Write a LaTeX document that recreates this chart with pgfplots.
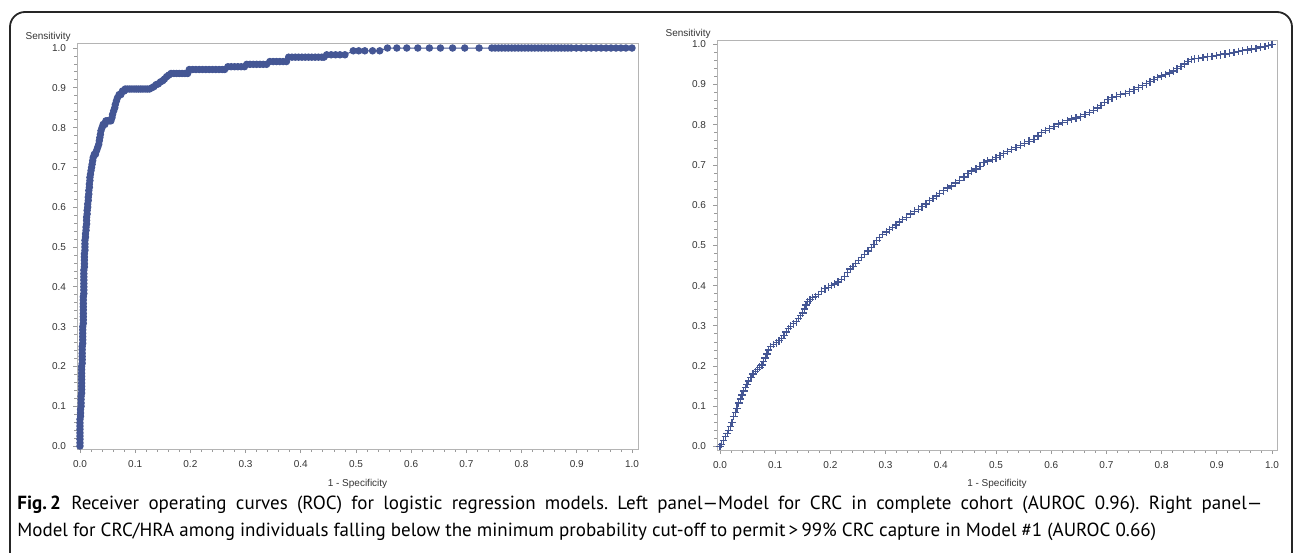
\documentclass[border=0pt]{standalone}
\usepackage{pgfplots}
\pgfplotsset{compat=1.18}
\usepackage{fontspec}
\setmainfont{PT Sans}
\newfontfamily\sasfont{Liberation Sans}

\definecolor{sasblue}{HTML}{445694}
\definecolor{axgray}{HTML}{B4B4B4}
\definecolor{tkgray}{HTML}{9A9A9A}
\definecolor{labgray}{HTML}{333333}

\newcommand\tickfont{\sasfont\fontsize{5pt}{6pt}\selectfont}
\newcommand\captfont{\fontsize{9.5pt}{13.5pt}\selectfont\frenchspacing}

% common look of the two SAS ROC panels
\pgfplotsset{
  rocaxis/.style={
    scale only axis,
    clip=false,
    axis line style={draw=axgray, line width=0.5pt},
    tick style={draw=tkgray, line width=0.4pt},
    tick align=outside,
    tick pos=left,
    major tick length=2pt,
    minor tick length=1.4pt,
    minor tick num=4,
    xtick={0,0.1,0.2,0.3,0.4,0.5,0.6,0.7,0.8,0.9,1},
    ytick={0,0.1,0.2,0.3,0.4,0.5,0.6,0.7,0.8,0.9,1},
    tick label style={font=\tickfont, text=labgray,
      /pgf/number format/fixed,
      /pgf/number format/fixed zerofill,
      /pgf/number format/precision=1,
      /pgf/number format/assume math mode=true},
  },
}

\begin{document}
\begin{tikzpicture}

% frame of the figure box
\draw[black!85, line width=0.9pt, rounded corners=7.5pt] (5pt,-6pt) rectangle (646pt,-330pt);

% ---------------- left panel ----------------
\begin{axis}[rocaxis,
  at={(38.5pt,-224.5pt)}, anchor=south west,
  width=280.5pt, height=203pt,
  xmin=-0.0054, xmax=1.0109, ymin=-0.0075, ymax=1.0126,
]
\addplot[color=sasblue, line width=0.5pt, mark=*, mark size=1.6pt,
  mark options={draw=sasblue, fill=sasblue}] coordinates {
(0,0) (0,0.008) (0,0.017) (0,0.025) (0,0.033) (0,0.042) (0,0.05) (0,0.058) (0,0.067) (0.001,0.075) (0.001,0.083) (0.001,0.092)
(0.002,0.1) (0.002,0.108) (0.002,0.117) (0.002,0.125) (0.003,0.133) (0.003,0.142) (0.003,0.15) (0.003,0.158) (0.003,0.167) (0.003,0.175) (0.003,0.183) (0.003,0.192)
(0.003,0.2) (0.004,0.208) (0.004,0.217) (0.004,0.225) (0.004,0.233) (0.004,0.242) (0.004,0.25) (0.005,0.258) (0.005,0.267) (0.005,0.275) (0.005,0.283) (0.005,0.292)
(0.005,0.3) (0.006,0.308) (0.006,0.317) (0.006,0.325) (0.006,0.333) (0.006,0.342) (0.006,0.35) (0.006,0.358) (0.006,0.367) (0.006,0.375) (0.007,0.383) (0.007,0.392)
(0.007,0.4) (0.007,0.408) (0.007,0.417) (0.007,0.425) (0.007,0.433) (0.007,0.442) (0.008,0.45) (0.008,0.458) (0.008,0.467) (0.008,0.475) (0.008,0.483) (0.009,0.492)
(0.009,0.5) (0.009,0.508) (0.009,0.517) (0.010,0.525) (0.010,0.533) (0.011,0.542) (0.011,0.55) (0.012,0.558) (0.012,0.567) (0.012,0.575) (0.013,0.583) (0.013,0.592)
(0.014,0.6) (0.014,0.608) (0.015,0.617) (0.015,0.625) (0.016,0.633) (0.016,0.642) (0.017,0.65) (0.017,0.658) (0.018,0.667) (0.018,0.675) (0.019,0.683) (0.020,0.692)
(0.021,0.7) (0.022,0.708) (0.023,0.717) (0.024,0.725) (0.026,0.733) (0.028,0.733) (0.030,0.742) (0.032,0.75) (0.034,0.758) (0.035,0.767) (0.036,0.775) (0.037,0.783)
(0.038,0.792) (0.040,0.8) (0.042,0.808) (0.045,0.808) (0.047,0.817) (0.050,0.817) (0.053,0.817) (0.056,0.817) (0.058,0.825) (0.059,0.833) (0.061,0.842) (0.063,0.85)
(0.064,0.858) (0.066,0.867) (0.068,0.875) (0.071,0.883) (0.074,0.883) (0.077,0.892) (0.080,0.892) (0.082,0.897) (0.086,0.897) (0.090,0.897) (0.094,0.897) (0.098,0.897)
(0.102,0.897) (0.106,0.897) (0.110,0.897) (0.114,0.897) (0.118,0.897) (0.122,0.897) (0.126,0.897) (0.130,0.9) (0.134,0.903) (0.138,0.908) (0.142,0.91) (0.146,0.915)
(0.150,0.918) (0.153,0.922) (0.157,0.928) (0.161,0.932) (0.165,0.936) (0.170,0.936) (0.175,0.936) (0.180,0.936) (0.185,0.936) (0.190,0.936) (0.195,0.936) (0.198,0.946)
(0.204,0.946) (0.210,0.946) (0.216,0.946) (0.222,0.946) (0.228,0.946) (0.234,0.946) (0.240,0.946) (0.246,0.946) (0.252,0.946) (0.258,0.946) (0.262,0.946) (0.268,0.953)
(0.274,0.953) (0.280,0.953) (0.286,0.953) (0.292,0.953) (0.298,0.953) (0.302,0.959) (0.308,0.959) (0.314,0.959) (0.320,0.959) (0.326,0.959) (0.332,0.959) (0.338,0.959)
(0.344,0.966) (0.350,0.966) (0.356,0.966) (0.362,0.966) (0.368,0.966) (0.374,0.966) (0.378,0.977) (0.384,0.977) (0.390,0.977) (0.396,0.977) (0.402,0.977) (0.408,0.977)
(0.414,0.977) (0.420,0.977) (0.426,0.977) (0.432,0.977) (0.438,0.977) (0.442,0.977) (0.447,0.983) (0.455,0.983) (0.463,0.983) (0.471,0.983) (0.480,0.983)
(0.495,0.993) (0.505,0.993) (0.516,0.993) (0.530,0.993) (0.543,0.993)
(0.557,1) (0.574,1) (0.592,1) (0.612,1) (0.633,1) (0.653,1) (0.675,1) (0.697,1) (0.723,1)
(0.746,1) (0.752,1) (0.758,1) (0.764,1) (0.770,1) (0.776,1) (0.782,1) (0.788,1) (0.794,1) (0.800,1) (0.806,1) (0.812,1) (0.818,1)
(0.824,1) (0.830,1) (0.836,1) (0.842,1) (0.848,1) (0.854,1) (0.860,1) (0.866,1) (0.872,1) (0.878,1) (0.884,1) (0.890,1)
(0.899,1) (0.908,1) (0.917,1) (0.926,1) (0.935,1) (0.944,1) (0.953,1) (0.962,1) (0.971,1) (0.980,1) (0.989,1) (1,1)
};
\end{axis}

% ---------------- right panel ----------------
\begin{axis}[rocaxis,
  at={(358.5pt,-225pt)}, anchor=south west,
  width=280pt, height=205pt,
  xmin=-0.0054, xmax=1.009, ymin=-0.0087, ymax=1.0107,
]
\addplot[only marks, color=sasblue, mark=+, mark size=1.9pt,
  mark options={line width=0.65pt}] coordinates {
(0,0) (0.003,0.005) (0.006,0.015) (0.010,0.025) (0.013,0.032) (0.016,0.040) (0.019,0.050) (0.022,0.060) (0.025,0.075) (0.028,0.085)
(0.031,0.095) (0.034,0.108) (0.037,0.118) (0.040,0.128) (0.043,0.138) (0.046,0.146) (0.049,0.155) (0.052,0.163) (0.056,0.172) (0.060,0.180)
(0.064,0.186) (0.068,0.192) (0.072,0.197) (0.076,0.203) (0.079,0.212) (0.082,0.220) (0.085,0.230) (0.088,0.240) (0.092,0.248) (0.097,0.254)
(0.102,0.258) (0.107,0.263) (0.112,0.268) (0.116,0.276) (0.120,0.285) (0.124,0.293) (0.128,0.299) (0.133,0.305) (0.138,0.310) (0.142,0.318)
(0.146,0.325) (0.150,0.332) (0.153,0.342) (0.156,0.352) (0.159,0.360) (0.163,0.365) (0.168,0.370) (0.173,0.373) (0.178,0.378) (0.184,0.386)
(0.190,0.392) (0.196,0.396) (0.202,0.400) (0.208,0.404) (0.214,0.409) (0.220,0.415) (0.226,0.422) (0.231,0.432) (0.236,0.441) (0.241,0.448)
(0.246,0.455) (0.251,0.462) (0.256,0.470) (0.262,0.478) (0.268,0.486) (0.274,0.495) (0.279,0.503) (0.284,0.512) (0.289,0.519) (0.295,0.527)
(0.301,0.533) (0.307,0.539) (0.313,0.545) (0.319,0.551) (0.325,0.558) (0.331,0.564) (0.338,0.570) (0.345,0.578) (0.352,0.585) (0.359,0.590)
(0.366,0.596) (0.373,0.603) (0.380,0.611) (0.386,0.617) (0.392,0.623) (0.398,0.629) (0.405,0.636) (0.412,0.643) (0.419,0.648) (0.426,0.655)
(0.434,0.662) (0.442,0.670) (0.449,0.678) (0.456,0.685) (0.464,0.690) (0.471,0.697) (0.478,0.706) (0.485,0.710) (0.493,0.714) (0.500,0.718)
(0.507,0.723) (0.514,0.728) (0.521,0.733) (0.528,0.738) (0.536,0.743) (0.544,0.749) (0.552,0.754) (0.560,0.759) (0.569,0.764) (0.576,0.772)
(0.583,0.780) (0.590,0.786) (0.597,0.790) (0.605,0.796) (0.613,0.802) (0.621,0.806) (0.629,0.810) (0.637,0.814) (0.645,0.817) (0.653,0.820)
(0.661,0.825) (0.669,0.830) (0.677,0.836) (0.684,0.842) (0.690,0.848) (0.696,0.855) (0.703,0.862) (0.710,0.867) (0.718,0.871) (0.726,0.875)
(0.734,0.878) (0.742,0.882) (0.750,0.887) (0.758,0.892) (0.765,0.897) (0.772,0.902) (0.779,0.907) (0.786,0.912) (0.793,0.917) (0.800,0.921)
(0.807,0.925) (0.814,0.929) (0.821,0.934) (0.828,0.939) (0.835,0.945) (0.842,0.951) (0.848,0.957) (0.854,0.962) (0.860,0.964) (0.867,0.965)
(0.875,0.967) (0.883,0.969) (0.891,0.970) (0.899,0.972) (0.907,0.974) (0.915,0.976) (0.923,0.978) (0.931,0.980) (0.939,0.982) (0.947,0.984)
(0.955,0.986) (0.963,0.988) (0.971,0.990) (0.979,0.993) (0.987,0.995) (0.994,0.997) (1,1)
};
\end{axis}

% axis titles, SAS style
\node[anchor=base east, inner sep=0pt, font=\tickfont, text=labgray] at (35.5pt,-19.7pt) {Sensitivity};
\node[anchor=base east, inner sep=0pt, font=\tickfont, text=labgray] at (355.5pt,-18.3pt) {Sensitivity};
\node[anchor=base, inner sep=0pt, font=\tickfont, text=labgray] at (178.75pt,-243.3pt) {1 - Specificity};
\node[anchor=base, inner sep=0pt, font=\tickfont, text=labgray] at (498.5pt,-243.3pt) {1 - Specificity};

% caption: first line justified to the full width, second line natural
\node[anchor=base west, inner sep=0pt, font=\captfont] at (8.5pt,-254.5pt)
  {\makebox[622.5pt][s]{\textbf{Fig.\,2}\hspace{0.55em}Receiver operating curves (ROC) for logistic regression models. Left panel—Model for CRC in complete cohort (AUROC 0.96). Right panel—}};
\node[anchor=base west, inner sep=0pt, font=\captfont] at (8.5pt,-268pt)
  {Model for CRC/HRA among individuals falling below the minimum probability cut-off to permit\,>\,99\% CRC capture in Model \#1 (AUROC 0.66)};

\pgfresetboundingbox
\path[use as bounding box] (0,0) rectangle (647.5pt,-276pt);
\end{tikzpicture}
\end{document}
